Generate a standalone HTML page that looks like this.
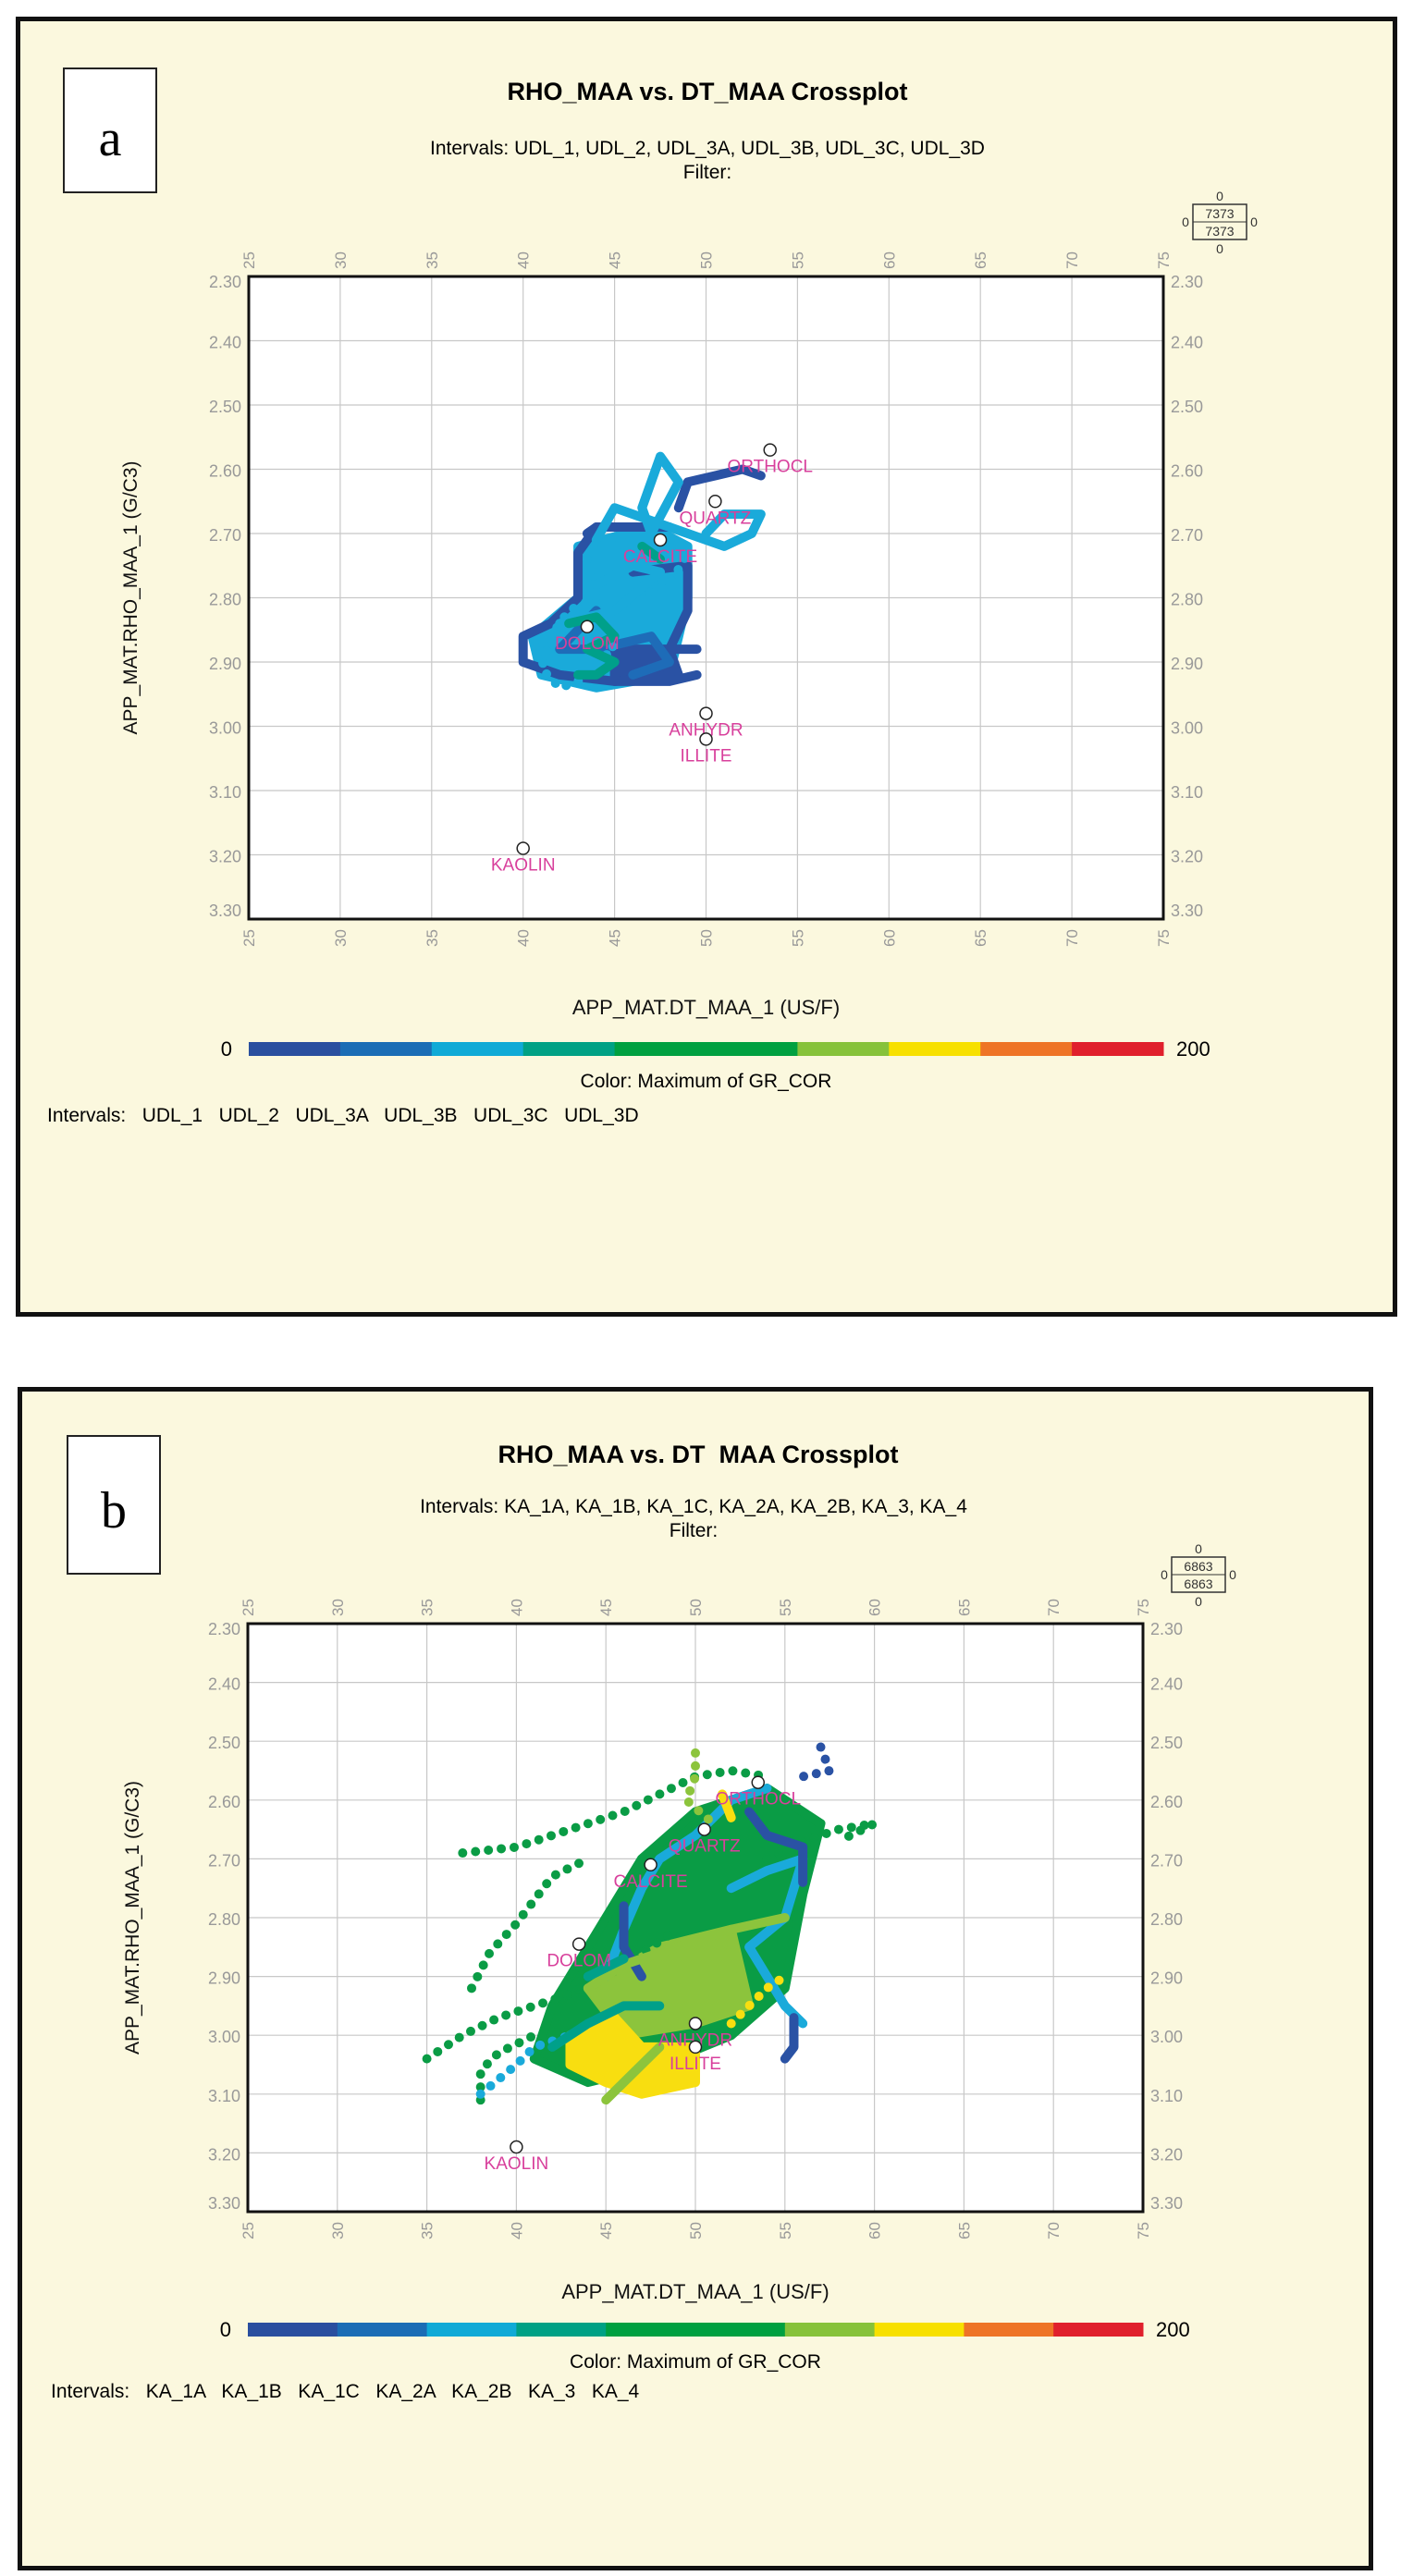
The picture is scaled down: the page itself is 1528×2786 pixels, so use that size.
<!DOCTYPE html>
<html><head><meta charset="utf-8"><style>
body{margin:0;background:#fff;width:1528px;height:2786px;position:relative;overflow:hidden;font-family:"Liberation Sans",sans-serif}
.abs{position:absolute}
.panel{position:absolute;background:#fbf8de;border:5px solid #111;box-sizing:border-box}
.tag{position:absolute;background:#fff;border:2px solid #222;font-family:"Liberation Serif",serif;font-size:56px;text-align:center;box-sizing:border-box}
.title{position:absolute;font-weight:bold;font-size:27px;text-align:center;width:1000px}
.sub{position:absolute;font-size:21px;text-align:center;width:1100px;line-height:26px}
.lbl{position:absolute;font-size:21px;white-space:pre}
</style></head><body>
<div class="panel" style="left:17px;top:18px;width:1494px;height:1406px"></div>
<div class="panel" style="left:19px;top:1500px;width:1466px;height:1280px"></div>
<div class="tag" style="left:68px;top:73px;width:102px;height:136px;line-height:150px">a</div>
<div class="tag" style="left:72px;top:1552px;width:102px;height:151px;line-height:160px">b</div>

<div class="title" style="left:265px;top:84px">RHO_MAA vs. DT_MAA Crossplot</div>
<div class="sub" style="left:215px;top:148px">Intervals: UDL_1, UDL_2, UDL_3A, UDL_3B, UDL_3C, UDL_3D<br>Filter:</div>
<div class="title" style="left:255px;top:1558px">RHO_MAA vs. DT&nbsp; MAA Crossplot</div>
<div class="sub" style="left:200px;top:1617px">Intervals: KA_1A, KA_1B, KA_1C, KA_2A, KA_2B, KA_3, KA_4<br>Filter:</div>

<svg id="svg" class="abs" style="left:0;top:0" width="1528" height="2786"></svg>

<div class="lbl" style="left:51px;top:1195px">Intervals:   UDL_1   UDL_2   UDL_3A   UDL_3B   UDL_3C   UDL_3D</div>
<div class="lbl" style="left:55px;top:2575px">Intervals:   KA_1A   KA_1B   KA_1C   KA_2A   KA_2B   KA_3   KA_4</div>

<script>
const xTicks=[25,30,35,40,45,50,55,60,65,70,75];
const yTicks=[2.30,2.40,2.50,2.60,2.70,2.80,2.90,3.00,3.10,3.20,3.30];
const cbColors=["#2a4f9f","#1b6db5","#10aad6","#00a184","#00a040","#00a040","#86c23a","#f7e000","#ee7426","#e0202c"];
const palette={DB:"#2a52a4",MB:"#1e6cb8",LB:"#1aaada",TE:"#00a08a",GR:"#0a9c45",LG:"#8cc43c",YE:"#f8de10"};
const minNames=["ORTHOCL","QUARTZ","CALCITE","DOLOM","ANHYDR","ILLITE","KAOLIN"];
const minDT=[53.5,50.5,47.5,43.5,50,50,40];
const minRHO=[2.57,2.65,2.71,2.845,2.98,3.02,3.19];
const countA="7373", countB="6863";

// panel a data
const aBlobs=[
 {c:"LB",p:[[43,2.72],[47,2.69],[49,2.72],[49,2.80],[48,2.92],[44,2.94],[41,2.92],[40.5,2.86],[43,2.80]]},
 {c:"DB",p:[[45,2.88],[48,2.88],[48.5,2.92],[45,2.93]]}
];
const aTracks=[
 {c:"DB",d:0,p:[[43.5,2.70],[44,2.69],[46.5,2.69],[48,2.69]]},
 {c:"DB",d:0,p:[[44,2.69],[43,2.73],[43,2.80],[41.5,2.84],[40,2.86],[40,2.90],[42,2.92],[45,2.93],[48,2.93],[49.5,2.92]]},
 {c:"DB",d:0,p:[[48.5,2.66],[49,2.62],[50.5,2.61],[52,2.60],[53,2.61]]},
 {c:"DB",d:0,p:[[46,2.76],[49,2.75],[49,2.82],[48,2.88],[49.5,2.88]]},
 {c:"MB",d:0,p:[[44,2.82],[42,2.88],[44,2.88],[47,2.86],[48,2.90],[46,2.92]]},
 {c:"LB",d:0,p:[[46.5,2.66],[47.5,2.58],[48.5,2.62],[47,2.70],[46.5,2.66]]},
 {c:"LB",d:0,p:[[44,2.71],[45,2.66],[47,2.68],[49,2.70],[51,2.72],[52.5,2.70],[53,2.67],[51,2.67],[50,2.70]]},
 {c:"LB",d:1,p:[[43.5,2.74],[44,2.80],[42.5,2.82],[41.5,2.86],[41,2.91],[42,2.94],[43,2.93],[44,2.90],[45,2.88],[44,2.84],[46,2.80],[48,2.78],[49,2.73]]},
 {c:"LB",d:0,p:[[44,2.78],[46,2.75],[47.5,2.76],[45,2.82],[42,2.84]]},
 {c:"TE",d:0,p:[[42.5,2.84],[44,2.83],[45,2.86],[43.5,2.88],[45,2.90],[44,2.92],[43,2.92]]},
 {c:"TE",d:0,p:[[46.5,2.72],[47.5,2.74]]}
];
// panel b data
const bBlobs=[
 {c:"GR",p:[[42,2.95],[45,2.80],[47,2.70],[50,2.62],[54,2.58],[57,2.64],[56,2.76],[55,2.92],[52,3.00],[48,3.05],[44,3.08],[41,3.04]]},
 {c:"LG",p:[[44,2.92],[48,2.85],[52,2.82],[53,2.95],[50,2.98],[46,3.00]]},
 {c:"YE",p:[[43,3.00],[45.5,2.97],[47,3.02],[50,3.02],[50,3.08],[47,3.10],[45,3.08],[43,3.05]]}
];
const bTracks=[
 {c:"GR",d:1,p:[[37,2.69],[40,2.68],[42,2.66],[44,2.64],[46,2.62],[48,2.59],[50,2.56],[52,2.55],[54,2.56]]},
 {c:"GR",d:1,p:[[35,3.04],[37,3.00],[39,2.97],[41,2.95],[43,2.93],[45,2.90],[47,2.86],[49,2.82]]},
 {c:"GR",d:1,p:[[37.5,2.92],[38.5,2.86],[40,2.81],[41,2.77],[42,2.73],[44,2.70]]},
 {c:"GR",d:1,p:[[38,3.11],[38,3.06],[39,3.03],[41,3.00]]},
 {c:"GR",d:1,p:[[54,2.70],[56,2.67],[58,2.65],[60,2.64],[58,2.67]]},
 {c:"LB",d:0,p:[[45,2.90],[46,2.82],[47,2.75],[48,2.70],[50,2.66],[52,2.60],[54,2.58]]},
 {c:"LB",d:0,p:[[52,2.75],[54,2.72],[56,2.70],[55,2.80],[53,2.85],[55,2.95],[56,2.98]]},
 {c:"LB",d:1,p:[[38,3.10],[40,3.05],[41,3.02],[43,3.00]]},
 {c:"DB",d:0,p:[[46,2.78],[46,2.85],[47,2.90]]},
 {c:"DB",d:0,p:[[53,2.62],[54,2.66],[56,2.68],[56,2.74]]},
 {c:"DB",d:0,p:[[55.5,2.97],[55.5,3.02],[55,3.04]]},
 {c:"DB",d:1,p:[[57,2.51],[57.5,2.55],[56,2.56]]},
 {c:"LG",d:1,p:[[50,2.52],[50,2.56],[49.5,2.60],[51,2.64]]},
 {c:"LG",d:0,p:[[44,2.92],[46,2.88],[48,2.86],[50,2.84],[52,2.82],[55,2.80]]},
 {c:"LG",d:0,p:[[45,3.11],[46,3.08],[48,3.02]]},
 {c:"YE",d:1,p:[[52,2.98],[53,2.95],[54,2.92],[55,2.90]]},
 {c:"YE",d:0,p:[[51.5,2.59],[52,2.63]]},
 {c:"TE",d:0,p:[[42,3.02],[44,2.98],[46,2.95],[48,2.95]]},
 {c:"TE",d:0,p:[[44,2.90],[46,2.87]]}
];

const NS="http://www.w3.org/2000/svg";
const svg=document.getElementById('svg');
function mk(tag,at,parent){const e=document.createElementNS(NS,tag);for(const k in at)e.setAttribute(k,at[k]);(parent||svg).appendChild(e);return e;}
function txt(x,y,s,at){const e=mk('text',Object.assign({x:x,y:y},at));e.textContent=s;return e;}

function drawPanel(cfg,blobs,tracks,count,id){
 const L=cfg.L,R=cfg.R,T=cfg.T,B=cfg.B;
 const sx=v=>L+(v-25)/50*(R-L);
 const sy=v=>T+(v-2.30)/1.0*(B-T);
 mk('rect',{x:L,y:T,width:R-L,height:B-T,fill:'#fff'});
 xTicks.forEach(t=>{const l=mk('line',{x1:sx(t),x2:sx(t),y1:T,y2:B,stroke:'#c8c8c8','stroke-width':1.2});
  
  
  [T-8,B+30].forEach(yy=>{
   const e=txt(sx(t)+6,yy,String(t),{'font-size':17,fill:'#999',transform:`rotate(-90 ${sx(t)+6} ${yy})`,'text-anchor':'start'});
   
   
  });
 });
 yTicks.forEach((t,i)=>{const yy=sy(t);
  const l=mk('line',{x1:L,x2:R,y1:yy,y2:yy,stroke:'#c8c8c8','stroke-width':1.2});
  
  
  const ly=i==0?yy+12:(i==yTicks.length-1?yy-3:yy+8);
  const a=txt(L-8,ly,t.toFixed(2),{'font-size':18,fill:'#999','text-anchor':'end'});
  
  
  const b=txt(R+8,ly,t.toFixed(2),{'font-size':18,fill:'#999'});
  
  
 });
 const g=mk('g',{});
 
 
 blobs.forEach(bl=>{const p=mk('polygon',{points:bl.p.map(q=>sx(q[0])+','+sy(q[1])).join(' '),fill:palette[bl.c],stroke:palette[bl.c],'stroke-width':10,'stroke-linejoin':'round'},g);
  
  });
 tracks.forEach(tr=>{const at={points:tr.p.map(q=>sx(q[0])+','+sy(q[1])).join(' '),fill:'none',stroke:palette[tr.c],'stroke-width':10,'stroke-linecap':'round','stroke-linejoin':'round'};
  if(tr.d)at['stroke-dasharray']='0 14';
  const p=mk('polyline',at,g);
  
  });
 mk('rect',{x:L,y:T,width:R-L,height:B-T,fill:'none',stroke:'#111','stroke-width':3});
 minNames.forEach((n,i)=>{
  const c=mk('circle',{cx:sx(minDT[i]),cy:sy(minRHO[i]),r:6.5,fill:'#fff',stroke:'#222','stroke-width':1.5});
  
  
  const t=txt(sx(minDT[i]),sy(minRHO[i])+24,n,{'font-size':19,fill:'#d8409c','text-anchor':'middle'});
  
  
 });
 const at=txt((L+R)/2,cfg.xt,'APP_MAT.DT_MAA_1 (US/F)',{'font-size':22,'text-anchor':'middle',fill:'#111'});
 
 
 const yt=txt(cfg.ytx,(T+B)/2,'APP_MAT.RHO_MAA_1 (G/C3)',{'font-size':21,'text-anchor':'middle',fill:'#111',transform:`rotate(-90 ${cfg.ytx} ${(T+B)/2})`});
 
 
 const w=(R-L)/cbColors.length;
 cbColors.forEach((c,i)=>{const r=mk('rect',{x:L+i*w,y:cfg.cb,width:w+0.5,height:15,fill:c});
  
  });
 const c0=txt(L-18,cfg.cb+15,'0',{'font-size':22,'text-anchor':'end'});
 
 
 const c1=txt(R+14,cfg.cb+15,'200',{'font-size':22});
 
 
 const cl=txt((L+R)/2,cfg.cb+49,'Color: Maximum of GR_COR',{'font-size':21,'text-anchor':'middle'});
 
 
 const bx=cfg.bx,by=cfg.by;
 const cg=mk('g',{});
 
 
 mk('rect',{x:bx,y:by,width:58,height:38,fill:'none',stroke:'#333','stroke-width':1.5},cg);
 mk('line',{x1:bx,x2:bx+58,y1:by+19,y2:by+19,stroke:'#333'},cg);
 [[bx+29,by+15,count],[bx+29,by+34,count],[bx+29,by-4,'0'],[bx+29,by+53,'0'],[bx-8,by+24,'0'],[bx+66,by+24,'0']].forEach(a=>{
  const e=mk('text',{x:a[0],y:a[1],'font-size':14,'text-anchor':'middle',fill:'#333'},cg);e.textContent=a[2];});
}
drawPanel({L:269,R:1258,T:299,B:994,xt:1097,ytx:148,cb:1127,bx:1290,by:221},aBlobs,aTracks,countA,'a');
drawPanel({L:268,R:1236,T:1756,B:2392,xt:2486,ytx:150,cb:2512,bx:1267,by:1684},bBlobs,bTracks,countB,'b');
</script>
</body></html>
